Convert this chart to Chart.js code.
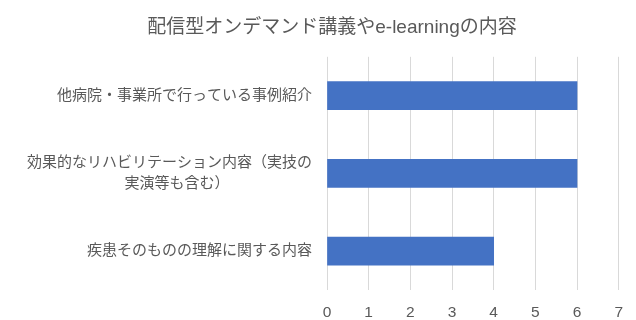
<!DOCTYPE html>
<html>
<head>
<meta charset="utf-8">
<script src="https://cdn.jsdelivr.net/npm/chart.js@4/dist/chart.umd.min.js"></script>
<style>
  html, body { margin: 0; padding: 0; background: #fff; }
  #wrap { width: 636px; height: 320px; }
</style>
</head>
<body>
<div id="wrap"><canvas id="contentChart"></canvas></div>
<script>
// ===== data =====
const chartTitle = '配信型オンデマンド講義やe-learningの内容';
// second line of the long label is padded with ideographic spaces so it sits centred under the first line
const categories = [
    '他病院・事業所で行っている事例紹介',
    ['効果的なリハビリテーション内容（実技の', '実演等も含む）\u3000\u3000\u3000\u3000\u3000\u3000'],
    '疾患そのものの理解に関する内容'
];
const counts = [6, 6, 4];
const axisMin = 0;
const axisMax = 7;
const axisStep = 1;

const textColor = '#595959';
// latin glyphs from Liberation Sans, kana/kanji fall back to Noto CJK
const fontFamily = '"Liberation Sans", "Noto Sans CJK JP", sans-serif';

// moves the title a bit right of the canvas centre
const titleShift = {
    id: 'titleShift',
    afterLayout: function(chart) {
        if (chart.titleBlock) {
            chart.titleBlock.left += 22;
            chart.titleBlock.right += 22;
        }
    }
};

const ctx = document.getElementById('contentChart').getContext('2d');

const contentChart = new Chart(ctx, {
    type: 'bar',
    data: {
        labels: categories,
        datasets: [{
            data: counts,
            backgroundColor: '#4472C4',
            barThickness: 28
        }]
    },
    options: {
        indexAxis: 'y',
        responsive: true,
        maintainAspectRatio: false,
        animation: false,
        layout: {
            padding: { left: 0, right: 16, top: 0, bottom: 0 }
        },
        plugins: {
            legend: { display: false },
            tooltip: { enabled: false },
            title: {
                display: true,
                text: chartTitle,
                color: textColor,
                font: { family: fontFamily, size: 19, weight: 'normal' },
                padding: { top: 16, bottom: 18 }
            }
        },
        scales: {
            x: {
                min: axisMin,
                max: axisMax,
                border: { display: false },
                grid: { color: '#D9D9D9', drawTicks: false },
                ticks: {
                    stepSize: axisStep,
                    color: textColor,
                    padding: 13,
                    font: { family: fontFamily, size: 15.5 }
                },
                afterFit: function(scale) { scale.height = 30; }
            },
            y: {
                border: { display: false },
                grid: { display: false, drawTicks: false },
                ticks: {
                    color: textColor,
                    padding: 15,
                    font: { family: fontFamily, size: 15, lineHeight: 1.4 }
                },
                afterFit: function(scale) { scale.width = 327; }
            }
        }
    },
    plugins: [titleShift]
});
</script>
</body>
</html>
